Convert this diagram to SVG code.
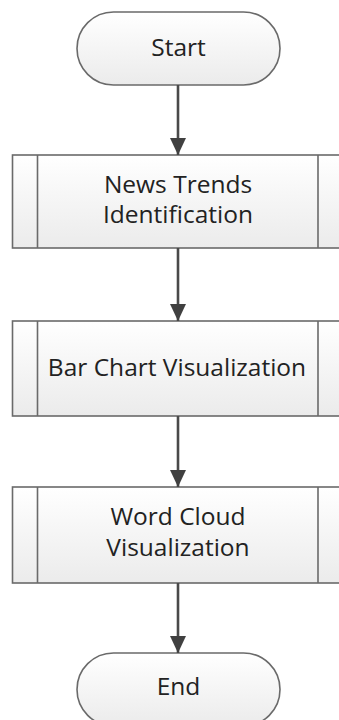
<svg xmlns="http://www.w3.org/2000/svg" width="339" height="720" viewBox="0 0 339 720">
<defs>
<linearGradient id="fillg" x1="0" y1="0" x2="0" y2="1">
<stop offset="0" stop-color="#ffffff"/>
<stop offset="1" stop-color="#ebebeb"/>
</linearGradient>
<marker id="arr" markerUnits="userSpaceOnUse" markerWidth="18" markerHeight="18" viewBox="0 0 18 18" refX="17" refY="9" orient="auto">
<path d="M0,1 L17,9 L0,17 Z" fill="#404040"/>
</marker>
</defs>
<style>
.shape{fill:url(#fillg);stroke:#6a6a6a;stroke-width:1.6}
.bar{stroke:#6a6a6a;stroke-width:1.6;fill:none}
.lbl{font-family:"Open Sans","Noto Sans",sans-serif;font-size:24.5px;fill:#222222;text-anchor:middle}
.conn{stroke:#4a4a4a;stroke-width:2.6;fill:none}
</style>
<rect width="339" height="720" fill="#ffffff"/>
<g id="start">
<rect class="shape" x="77" y="12" width="203" height="73" rx="36.5" ry="36.5"/>
<text class="lbl" x="178.5" y="56">Start</text>
</g>
<g id="news">
<rect class="shape" x="12.5" y="155" width="331" height="93"/>
<line class="bar" x1="37.5" y1="155" x2="37.5" y2="248"/>
<line class="bar" x1="318" y1="155" x2="318" y2="248"/>
<text class="lbl" x="178" y="193">News Trends</text>
<text class="lbl" x="178" y="223">Identification</text>
</g>
<g id="bar">
<rect class="shape" x="12.5" y="321" width="331" height="95"/>
<line class="bar" x1="37.5" y1="321" x2="37.5" y2="416"/>
<line class="bar" x1="318" y1="321" x2="318" y2="416"/>
<text class="lbl" x="177" y="376">Bar Chart Visualization</text>
</g>
<g id="word">
<rect class="shape" x="12.5" y="487" width="331" height="96"/>
<line class="bar" x1="37.5" y1="487" x2="37.5" y2="583"/>
<line class="bar" x1="318" y1="487" x2="318" y2="583"/>
<text class="lbl" x="178" y="525">Word Cloud</text>
<text class="lbl" x="178" y="556">Visualization</text>
</g>
<g id="end">
<rect class="shape" x="77" y="653" width="203" height="73" rx="36.5" ry="36.5"/>
<text class="lbl" x="178.5" y="695">End</text>
</g>
<g id="connectors">
<line class="conn" x1="178" y1="85" x2="178" y2="155" marker-end="url(#arr)"/>
<line class="conn" x1="178" y1="248" x2="178" y2="321" marker-end="url(#arr)"/>
<line class="conn" x1="178" y1="416" x2="178" y2="487" marker-end="url(#arr)"/>
<line class="conn" x1="178" y1="583" x2="178" y2="653" marker-end="url(#arr)"/>
</g>
</svg>
